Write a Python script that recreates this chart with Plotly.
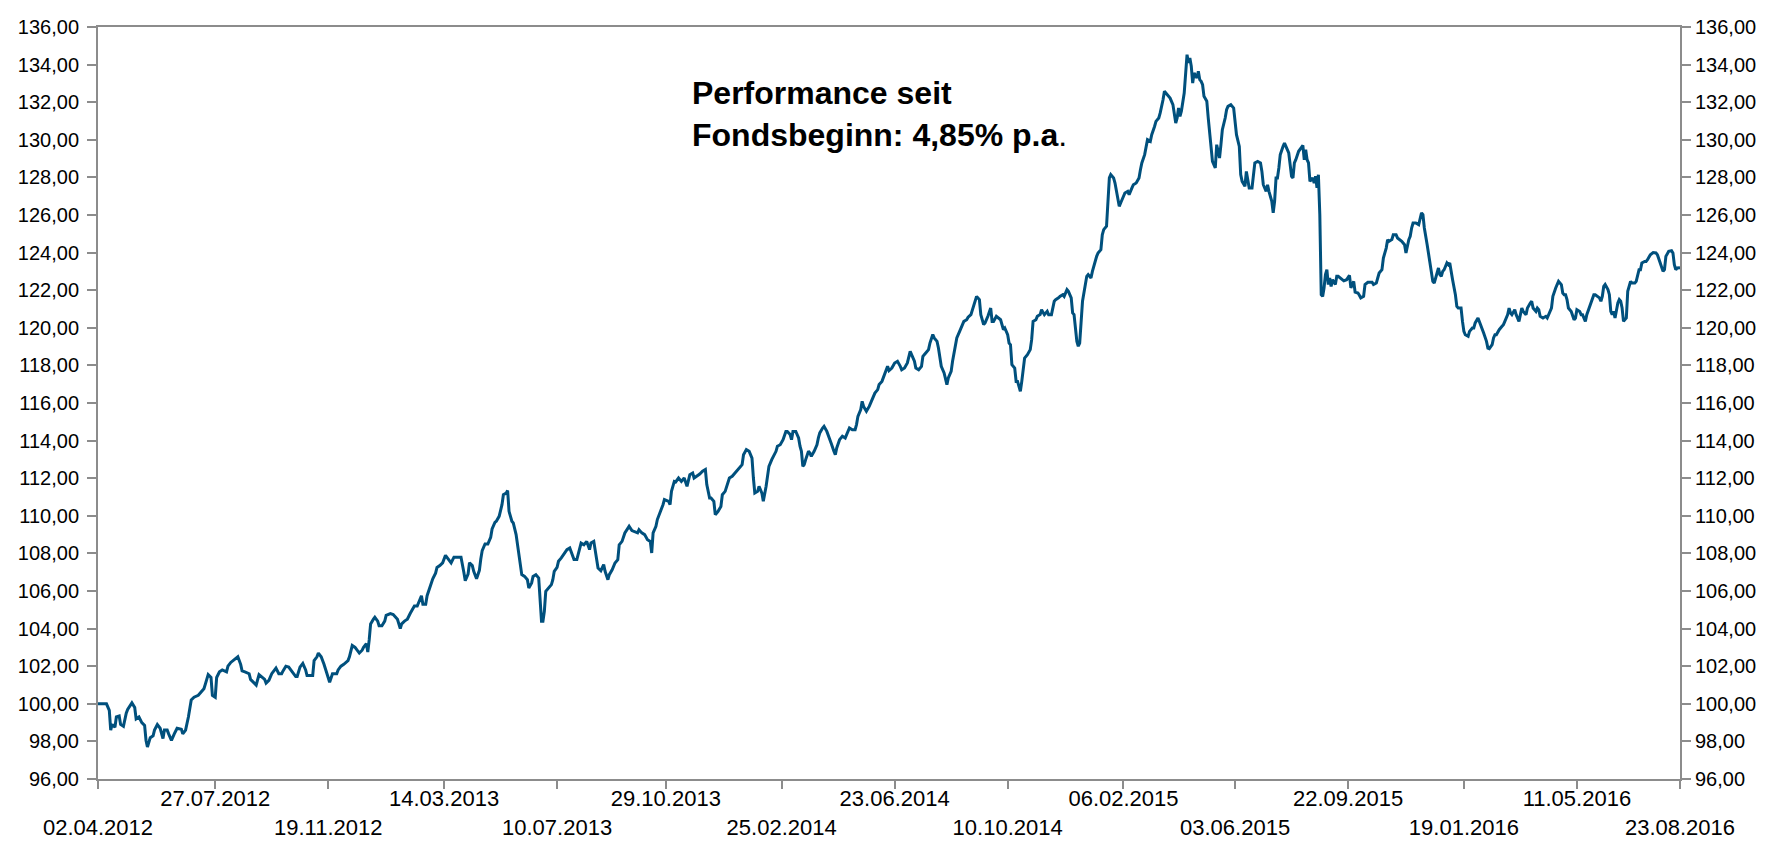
import plotly.graph_objects as go

# Fund NAV: (trading day index, value)
nav_part1 = [(0,100.0),(6,100.0),(8,99.65),(9,98.6),(10,98.9),(12,98.75),(13,99.3),(15,99.35),(16,98.9),(18,98.8),
(20,99.5),(21,99.7),(24,100.05),(26,99.8),(27,99.2),(29,99.3),(31,99.0),(33,98.85),(34,98.05),(35,97.7),
(37,98.2),(39,98.3),(40,98.6),(42,98.9),(44,98.7),(46,98.15),(47,98.6),(49,98.6),(50,98.4),(52,98.05),
(54,98.4),(56,98.7),(59,98.65),(60,98.4),(62,98.6),(64,99.3),(66,100.2),(68,100.35),(71,100.45),(73,100.6),
(75,100.8),(76,101.05),(78,101.55),(80,101.4),(81,100.45),(83,100.35),(84,101.4),(86,101.7),(88,101.8),(91,101.7),
(92,102.0),(94,102.2),(97,102.4),(99,102.5),(101,102.1),(102,101.75),(104,101.7),(107,101.6),(108,101.3),(110,101.15),
(112,101.0),(114,101.55),(116,101.4),(118,101.3),(119,101.1),(121,101.25),(123,101.6),(126,101.9),(128,101.6),(130,101.6),
(131,101.75),(133,102.0),(135,101.95),(137,101.75),(138,101.6),(140,101.45),(141,101.45),(143,101.95),(145,102.15),(147,101.8),
(148,101.5),(150,101.5),(152,101.5),(153,102.3),(155,102.5),(156,102.7),(158,102.5),(160,102.1),(161,101.85),(163,101.4),
(164,101.15),(166,101.6),(169,101.6),(170,101.8),(172,102.0),(174,102.1),(177,102.3),(178,102.5),(180,103.1),(182,103.0),
(185,102.7),(187,102.85),(188,103.0),(190,103.2),(191,102.75),(192,103.4),(193,104.25),(195,104.5),(196,104.6),(198,104.4),
(199,104.15),(201,104.15),(203,104.4),(204,104.7),(207,104.8),(209,104.75),(211,104.6),(212,104.5),(214,104.0),(215,104.25),
(217,104.4),(219,104.5),(221,104.8),(223,105.1),(224,105.2),(226,105.2),(229,105.75),(230,105.3),(232,105.3),(233,105.75),
(235,106.2),(237,106.65),(239,106.95),(240,107.25),(242,107.35),(244,107.5),(246,107.9),(248,107.7),(250,107.5),(252,107.8),
(255,107.8),(257,107.8),(259,107.0),(260,106.55),(262,106.9),(263,107.5),(265,107.35),(266,107.05),(268,106.65),(270,107.1),
(271,107.7),(272,108.15),(274,108.5),(276,108.5),(278,108.85),(279,109.3),(281,109.65)]

nav_part2 = [(282,109.71),(284,109.97),(286,110.59),(287,111.12),(289,111.21),(290,111.34),(291,110.24),(293,109.71),(294,109.62),(296,109.0),
(298,107.93),(299,107.58),(300,106.87),(302,106.78),(304,106.6),(305,106.16),(307,106.43),(308,106.78),(310,106.87),(312,106.69),
(313,105.45),(314,104.39),(315,104.39),(316,104.92),(317,105.98),(319,106.16),(321,106.34),(322,106.6),(323,107.05),(325,107.26),
(326,107.58),(328,107.76),(330,108.02),(332,108.2),(334,108.29),(336,107.84),(337,107.67),(339,107.67),(340,107.93),(342,108.55),
(344,108.46),(346,108.64),(348,108.2),(349,108.55),(351,108.64),(353,107.76),(354,107.22),(356,107.08),(358,107.4),(359,107.05),
(361,106.6),(362,106.87),(364,107.13),(366,107.49),(368,107.67),(369,108.46),(371,108.64),(373,109.09),(375,109.35),(376,109.44),
(378,109.21),(380,109.17),(382,109.09),(383,109.26),(385,109.09),(387,109.0),(389,108.73),(391,108.64),(392,108.02),(393,109.09),
(395,109.44),(396,109.8),(398,110.15),(400,110.59),(401,110.86),(404,110.77),(405,110.59),(406,111.3),(408,111.83),(409,111.8),
(411,112.01),(413,111.83),(415,112.01),(417,111.57),(419,112.19),(421,112.28),(422,112.01),(424,112.1),(426,112.22),(428,112.37),
(430,112.46),(431,111.66),(433,110.95),(434,110.95),(436,110.77),(437,110.06),(439,110.24),(441,110.5),(442,111.12),(444,111.3),
(446,111.83),(447,112.01),(449,112.1),(451,112.28),(452,112.37),(454,112.54),(456,112.72),(457,113.25),(459,113.52),(461,113.43),
(463,113.07),(464,112.01),(465,111.21),(467,111.3),(468,111.57),(470,111.21),(471,110.77),(473,111.57),(474,112.01),(475,112.63),
(477,112.99),(478,113.16),(480,113.43),(481,113.7),(483,113.78),(485,114.05),(487,114.49),(488,114.49),(490,114.32),(491,114.05),
(492,114.49),(494,114.49),(496,114.14),(497,113.7),(498,113.43),(499,112.63),(500,112.72),(501,112.99),(503,113.43),(504,113.34),
(505,113.16),(507,113.43),(509,113.78),(510,114.14),(511,114.41),(513,114.67),(514,114.76),(516,114.49),(518,114.14),(519,113.87),
(521,113.43),(522,113.25),(523,113.61),(525,114.05),(527,114.23),(529,114.14),(530,114.32),(532,114.67),(534,114.58),(536,114.58),
(537,114.85),(538,115.29),(540,115.65),(541,116.09),(542,115.82),(544,115.56),(546,115.82),(547,116.0),(549,116.27),(550,116.53),
(552,116.71),(553,116.98),(555,117.15),(556,117.33),(558,117.77),(559,117.95)]

nav_part3 = [(560,117.72),(562,117.86),(564,118.13),(566,118.22),(568,117.95),(569,117.77),(571,117.86),(573,118.13),(575,118.75),(576,118.57),
(578,118.22),(579,117.86),(581,117.77),(583,117.95),(584,118.48),(586,118.66),(588,118.84),(589,119.19),(591,119.64),(592,119.46),
(594,119.28),(595,118.93),(597,117.95),(599,117.6),(600,117.33),(601,116.98),(602,117.33),(604,117.68),(605,118.22),(607,118.93),
(608,119.46),(610,119.81),(612,120.17),(613,120.34),(615,120.43),(616,120.56),(618,120.7),(619,120.96),(621,121.41),(622,121.67),
(624,121.5),(625,120.7),(627,120.17),(628,120.26),(630,120.61),(632,121.05),(633,120.34),(634,120.34),(636,120.61),(638,120.52),
(639,120.43),(641,119.9),(642,119.99),(644,119.64),(645,119.19),(646,119.1),(647,118.04),(649,117.86),(650,117.15),(651,117.15),
(653,116.62),(654,117.15),(655,117.86),(656,118.39),(658,118.57),(660,118.84),(661,119.37),(662,120.34),(664,120.43),(665,120.61),
(667,120.7),(668,120.96),(670,120.7),(672,120.88),(673,120.7),(675,120.7),(677,121.41),(678,121.5),(680,121.59),(681,121.67),
(683,121.76),(684,121.67),(686,122.03),(687,121.94),(689,121.59),(690,120.79),(691,120.7),(693,119.28),(694,119.02),(695,119.19),
(697,121.41),(698,121.94),(699,122.3),(700,122.74),(701,122.83),(703,122.65),(704,123.0),(706,123.62),(707,123.8),(708,123.98),
(710,124.16),(711,124.95),(712,125.22),(714,125.4),(715,126.82),(716,127.97),(717,128.15),(719,127.97),(720,127.7),(721,127.26),
(722,126.73),(723,126.46),(724,126.64),(726,126.99),(727,127.17),(729,127.26),(730,127.08),(732,127.44),(733,127.61),(735,127.7),
(737,127.97),(738,128.41),(739,128.77),(741,129.21),(742,129.74),(743,130.01),(745,129.92),(746,130.27),(748,130.71),(749,130.98),
(751,131.16),(752,131.43),(754,132.13),(755,132.58),(756,132.49),(758,132.31),(759,132.22),(761,131.87),(762,131.43),(763,130.89),
(764,131.16),(765,131.69),(766,131.25),(767,131.52),(769,132.49),(770,133.46),(771,134.53),(772,134.09),(773,134.35),(774,133.91),
(775,133.02),(776,133.55),(778,133.29),(779,133.64),(780,133.2),(781,133.11),(782,132.93),(783,132.31),(785,132.05),(786,131.16),
(787,130.27),(788,129.56),(789,128.85),(791,128.5),(792,129.74),(793,129.39),(794,129.03),(795,129.74),(796,130.54),(798,131.16),
(799,131.6),(800,131.78),(802,131.87),(804,131.69),(805,131.07),(806,130.27),(808,129.65),(809,128.15),(810,127.79),(812,127.53),
(813,128.32),(814,127.97),(815,127.44),(817,127.44),(819,128.77),(821,128.85),(823,128.77),(824,128.32),(825,127.61),(827,127.26),
(828,127.61),(829,127.26),(831,126.73),(832,126.11),(833,126.73),(834,127.97)]

nav_part4 = [(835,127.97),(836,128.5),(837,129.21),(839,129.65),(840,129.83),(841,129.65),(843,129.3),(844,128.68),(845,128.06),(846,127.97),
(847,128.77),(848,128.94),(850,129.39),(852,129.6),(853,129.7),(854,128.94),(855,129.47),(856,128.94),(857,128.77),(858,127.79),
(860,127.97),(861,127.7),(862,128.06),(863,127.44),(864,128.14),(865,126.02),(866,121.76),(867,121.67),(868,122.12),(869,122.83),
(870,123.09),(871,122.3),(872,122.65),(873,122.2),(874,122.56),(876,122.3),(877,122.74),(878,122.74),(880,122.61),(882,122.5),
(884,122.56),(886,122.79),(887,122.12),(889,122.47),(890,121.9),(892,121.85),(893,121.73),(894,121.59),(896,121.67),(897,122.3),
(899,122.42),(900,122.42),(902,122.42),(903,122.3),(905,122.38),(906,122.65),(907,122.91),(909,123.09),(910,123.71),(912,124.24),
(913,124.69),(914,124.6),(916,124.69),(917,124.95),(919,124.95),(920,124.78),(922,124.69),(923,124.6),(925,124.42),(926,123.98),
(928,124.69),(929,124.87),(930,125.31),(931,125.57),(932,125.57),(933,125.57),(935,125.48),(936,125.84),(937,126.11),(938,126.02),
(939,125.31),(941,124.42),(942,123.89),(943,123.54),(944,123.09),(945,122.47),(946,122.38),(948,123.0),(949,123.18),(950,122.83),
(951,122.74),(952,123.0),(953,123.09),(955,123.45),(956,123.36),(957,123.45),(958,123.09),(959,122.56),(961,121.76),(962,121.14),
(963,121.05),(965,121.05),(966,120.34),(967,119.81),(968,119.63),(970,119.55),(971,119.81),(973,119.99),(974,119.99),(975,120.26),
(977,120.52),(978,120.34),(979,120.08),(980,119.99),(981,119.72),(983,119.28),(984,118.92),(985,118.89),(987,119.1),(988,119.46),
(989,119.63),(990,119.63),(991,119.81),(992,119.9),(994,120.08),(995,120.17),(996,120.34),(998,120.7),(999,121.05),(1000,120.79),
(1001,120.7),(1003,120.96),(1004,120.7),(1005,120.52),(1006,120.34),(1007,120.7),(1008,121.05),(1009,120.87),(1011,120.7),(1012,121.05),
(1013,121.23),(1014,121.32),(1015,121.41),(1016,121.05),(1018,120.87),(1019,121.05),(1020,120.96),(1021,120.61),(1023,120.52),(1025,120.61),
(1026,120.52),(1027,120.7),(1029,121.05),(1030,121.67),(1031,121.94),(1032,122.12),(1033,122.3),(1034,122.47),(1036,122.3),(1037,121.85),
(1038,121.76),(1039,121.76),(1040,121.5),(1041,121.05),(1043,120.87),(1044,120.61),(1045,120.43),(1046,120.52),(1047,120.96),(1049,120.87),
(1050,120.7),(1051,120.7),(1052,120.52),(1053,120.34),(1054,120.7),(1056,121.14),(1057,121.41),(1058,121.59),(1059,121.76),(1060,121.76),
(1062,121.67),(1063,121.59),(1064,121.41),(1065,121.67),(1066,122.2),(1067,122.3),(1069,122.03),(1070,121.76),(1071,120.87),(1072,120.7),
(1073,120.87),(1074,120.52),(1076,121.32),(1077,121.5),(1078,121.41),(1079,121.05),(1080,120.34),(1082,120.52),(1083,121.94),(1084,122.3),
(1085,122.47),(1086,122.38),(1088,122.38),(1089,122.47),(1090,122.83),(1091,123.09),(1092,123.09),(1093,123.45),(1095,123.53),(1096,123.53),
(1097,123.62),(1098,123.8),(1099,123.89),(1101,124.0),(1103,123.98),(1104,123.89),(1105,123.71),(1106,123.45),(1108,123.0),(1109,123.09),
(1110,123.8),(1111,123.98),(1112,124.07),(1114,124.1),(1115,123.98),(1116,123.36),(1117,123.09),(1118,123.18),(1120,123.2)]

# X-axis tick dates and their trading-day positions
tick_days = [0, 83, 163, 245, 325, 402, 484, 564, 644, 726, 805, 885, 967, 1047, 1120]
tick_dates = ["02.04.2012", "27.07.2012", "19.11.2012", "14.03.2013", "10.07.2013",
              "29.10.2013", "25.02.2014", "23.06.2014", "10.10.2014", "06.02.2015",
              "03.06.2015", "22.09.2015", "19.01.2016", "11.05.2016", "23.08.2016"]

annotation_lines = ["Performance seit", "Fondsbeginn: 4,85% p.a"]

points = nav_part1 + nav_part2 + nav_part3 + nav_part4
days = [p[0] for p in points]
nav = [p[1] for p in points]

# staggered labels: even -> lower row, odd -> upper row
tick_text = [("<br>" + d) if i % 2 == 0 else d for i, d in enumerate(tick_dates)]

AX = "#8C8C8C"
FONT = "Liberation Sans, Arial, sans-serif"

fig = go.Figure()
fig.add_trace(go.Scatter(x=days, y=nav, mode="lines",
                         line=dict(color="#00507D", width=3),
                         hoverinfo="skip", showlegend=False))
fig.add_trace(go.Scatter(x=[days[0], days[-1]], y=[nav[0], nav[-1]], yaxis="y2",
                         mode="lines", line=dict(width=0), opacity=0,
                         hoverinfo="skip", showlegend=False))

yax = dict(range=[96, 136], tick0=96, dtick=2, tickformat=".2f",
           ticks="outside", ticklen=9, tickwidth=2, tickcolor=AX,
           showline=True, linecolor=AX, linewidth=2,
           showgrid=False, zeroline=False, automargin=False,
           tickfont=dict(size=20, color="#000000", family=FONT))

fig.update_layout(
    width=1772, height=841,
    margin=dict(l=90, r=100, t=19, b=70),
    paper_bgcolor="white", plot_bgcolor="white",
    separators=",.",
    font=dict(family=FONT, size=20, color="#000000"),
    showlegend=False,
    xaxis=dict(range=[0, 1120], tickmode="array", tickvals=tick_days, ticktext=tick_text,
               ticks="outside", ticklen=8, tickwidth=2, tickcolor=AX,
               showline=True, linecolor=AX, linewidth=2, mirror=True,
               showgrid=False, zeroline=False, automargin=False, tickangle=0,
               ticklabelstandoff=-9,
               tickfont=dict(size=22, color="#000000", family=FONT)),
    yaxis=dict(side="left", ticklabelstandoff=4, **yax),
    yaxis2=dict(side="right", overlaying="y", **yax),
    annotations=[dict(
        text="<b>" + annotation_lines[0] + "<br>" + annotation_lines[1] + "</b>.",
        xref="paper", yref="paper", x=0.3742, y=0.939,
        xanchor="left", yanchor="top", align="left", showarrow=False,
        font=dict(size=32, color="#000000", family=FONT))],
)

fig.write_html("out.html")
